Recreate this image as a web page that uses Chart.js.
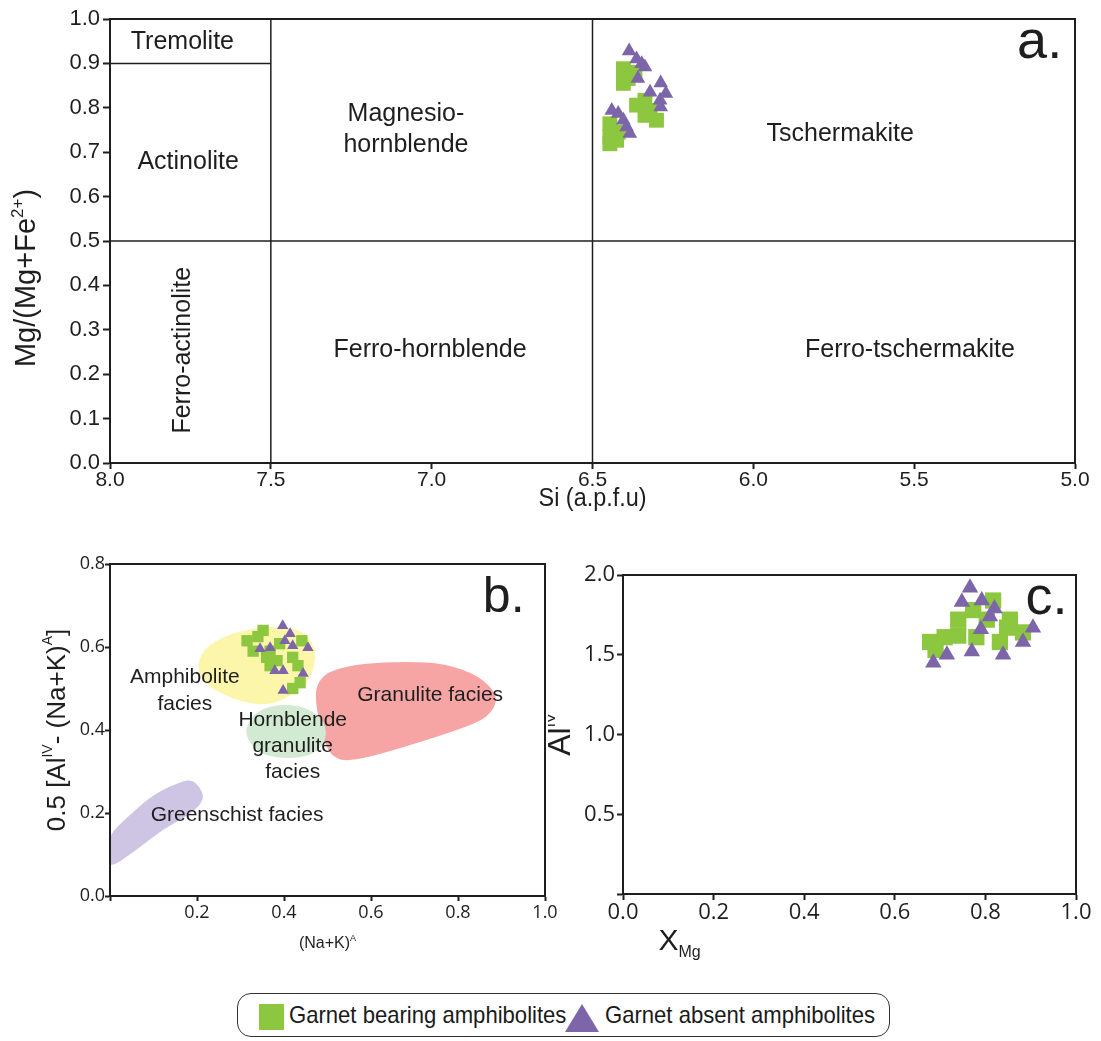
<!DOCTYPE html>
<html>
<head>
<meta charset="utf-8">
<script src="https://cdn.jsdelivr.net/npm/chart.js@4.4.1/dist/chart.umd.min.js"></script>
<style>
  body{margin:0;background:#fff;width:1101px;height:1041px;position:relative;overflow:hidden;font-family:"Liberation Sans",Arial,sans-serif;}
  canvas{position:absolute;}
  #legend{position:absolute;left:237px;top:993px;width:651px;height:42px;border:1.5px solid #333;border-radius:14px;}
  #legend span{position:absolute;top:7px;font:24px "Liberation Sans",Arial,sans-serif;color:#1a1a1a;white-space:nowrap;transform:scaleX(0.92);transform-origin:0 50%;}
  #legend .sq{position:absolute;left:21px;top:10px;width:25px;height:26px;background:#8dc63f;}
  #legend svg{position:absolute;left:327px;top:10px;}
</style>
</head>
<body>
<canvas id="chartA" width="1101" height="530" style="left:0;top:0"></canvas>
<canvas id="chartB" width="560" height="420" style="left:0;top:540px"></canvas>
<canvas id="chartC" width="553" height="420" style="left:548px;top:540px"></canvas>
<div id="legend">
  <div class="sq"></div><span style="left:51px">Garnet bearing amphibolites</span>
  <svg width="34" height="28"><polygon points="17,0 34,28 0,28" fill="#7d65a9"/></svg>
  <span style="left:367px">Garnet absent amphibolites</span>
</div>
<script>
// ---- data ----
// a. Si vs Mg/(Mg+Fe2+)
const aBearingSi = [6.404,6.368,6.389,6.404,6.363,6.337,6.321,6.337,6.301,6.446,6.420,6.446,6.425,6.446];
const aBearingMg = [0.888,0.880,0.866,0.855,0.806,0.817,0.794,0.783,0.772,0.764,0.745,0.734,0.727,0.719];
const aAbsentSi = [6.386,6.363,6.347,6.337,6.359,6.288,6.321,6.272,6.290,6.288,6.440,6.420,6.404,6.394,6.384];
const aAbsentMg = [0.928,0.910,0.899,0.892,0.866,0.856,0.835,0.832,0.817,0.802,0.794,0.787,0.772,0.757,0.742];
// b. (Na+K)A vs 0.5[AlIV-(Na+K)A]
const bBearingNaK = [0.315,0.352,0.329,0.368,0.360,0.384,0.420,0.432,0.441,0.437,0.420,0.368,0.390,0.340];
const bBearingAl  = [0.615,0.640,0.590,0.590,0.575,0.567,0.575,0.555,0.615,0.514,0.500,0.555,0.608,0.625];
const bAbsentNaK = [0.397,0.414,0.402,0.420,0.455,0.368,0.345,0.398,0.379,0.444,0.398];
const bAbsentAl  = [0.651,0.632,0.615,0.603,0.598,0.598,0.596,0.543,0.543,0.536,0.495];
// c. XMg vs AlIV
const cBearingXMg = [0.678,0.710,0.740,0.740,0.773,0.817,0.803,0.780,0.848,0.883,0.832,0.854,0.690];
const cBearingAl  = [1.58,1.61,1.72,1.62,1.78,1.84,1.72,1.61,1.67,1.64,1.58,1.72,1.53];
const cAbsentXMg = [0.766,0.748,0.792,0.820,0.810,0.790,0.905,0.883,0.839,0.770,0.715,0.685];
const cAbsentAl  = [1.92,1.83,1.84,1.79,1.74,1.66,1.67,1.58,1.50,1.52,1.50,1.45];

// facies fields in chart b (data units, closed outlines)
const amphiboliteField = [[0.20,0.56],[0.22,0.60],[0.27,0.63],[0.33,0.645],[0.40,0.65],[0.45,0.635],[0.475,0.59],[0.465,0.53],[0.43,0.49],[0.37,0.46],[0.31,0.465],[0.25,0.49],[0.21,0.52]];
const hornblendeField  = [[0.31,0.40],[0.33,0.44],[0.38,0.462],[0.44,0.458],[0.49,0.43],[0.50,0.38],[0.47,0.34],[0.41,0.33],[0.35,0.34],[0.32,0.37]];
const granuliteField   = [[0.47,0.48],[0.48,0.52],[0.51,0.545],[0.58,0.56],[0.68,0.565],[0.77,0.56],[0.85,0.53],[0.895,0.48],[0.87,0.43],[0.80,0.40],[0.68,0.36],[0.58,0.33],[0.52,0.325],[0.49,0.37]];
const greenschistField = [[-0.01,0.06],[-0.01,0.14],[0.05,0.20],[0.10,0.245],[0.15,0.27],[0.185,0.282],[0.205,0.265],[0.218,0.235],[0.19,0.20],[0.12,0.16],[0.06,0.11]];

const GREEN = '#8dc63f', PURPLE = '#7d65a9', INK = '#1e1e1e';
const ARIAL = '"Liberation Sans", Arial, sans-serif';
const OPEN = '"Open Sans", sans-serif';

function pts(xs, ys){ return xs.map((x,i)=>({x:x, y:ys[i]})); }

// rich text: parts = [text, size, dy]
function richText(ctx, x, y, parts, rot, family, sx){
  ctx.save();
  ctx.translate(x, y);
  if(rot) ctx.rotate(rot);
  if(sx) ctx.scale(sx, 1);
  let total = 0;
  parts.forEach(p=>{ ctx.font = p[1]+'px '+family; total += ctx.measureText(p[0]).width; });
  let cx = -total/2;
  ctx.fillStyle = INK; ctx.textBaseline = 'alphabetic'; ctx.textAlign = 'left';
  parts.forEach(p=>{ ctx.font = p[1]+'px '+family; ctx.fillText(p[0], cx, p[2]||0); cx += ctx.measureText(p[0]).width; });
  ctx.restore();
}

function smoothPath(ctx, p){
  const n = p.length, mid = (a,b)=>[(a[0]+b[0])/2,(a[1]+b[1])/2];
  let m = mid(p[n-1], p[0]);
  ctx.moveTo(m[0], m[1]);
  for(let i=0;i<n;i++){ const q = p[(i+1)%n]; const m2 = mid(p[i], q); ctx.quadraticCurveTo(p[i][0], p[i][1], m2[0], m2[1]); }
  ctx.closePath();
}

const overlay = {
  id:'overlay',
  beforeDatasetsDraw(chart, args, o){
    const {ctx, chartArea:ca, scales:{x, y}} = chart;
    ctx.save();
    ctx.beginPath(); ctx.rect(ca.left, ca.top, ca.right-ca.left, ca.bottom-ca.top); ctx.clip();
    (o.fields||[]).forEach(f=>{
      ctx.beginPath();
      smoothPath(ctx, f.pts.map(p=>[x.getPixelForValue(p[0]), y.getPixelForValue(p[1])]));
      ctx.fillStyle = f.color; ctx.fill();
    });
    ctx.strokeStyle = INK; ctx.lineWidth = 1.5;
    (o.lines||[]).forEach(l=>{
      ctx.beginPath();
      ctx.moveTo(x.getPixelForValue(l[0]), y.getPixelForValue(l[1]));
      ctx.lineTo(x.getPixelForValue(l[2]), y.getPixelForValue(l[3]));
      ctx.stroke();
    });
    ctx.restore();
    // labels
    (o.labels||[]).forEach(l=>{
      ctx.save();
      ctx.translate(x.getPixelForValue(l.x), y.getPixelForValue(l.y));
      if(l.rot) ctx.rotate(l.rot);
      ctx.font = l.size+'px '+(l.family||ARIAL);
      ctx.fillStyle = INK; ctx.textAlign = 'center'; ctx.textBaseline = 'middle';
      const lh = l.lh || l.size*1.2;
      l.text.forEach((t,i)=>ctx.fillText(t, 0, (i-(l.text.length-1)/2)*lh));
      ctx.restore();
    });
  },
  afterDraw(chart, args, o){
    const {ctx, chartArea:ca} = chart;
    ctx.save();
    ctx.strokeStyle = INK; ctx.lineWidth = 2;
    ctx.strokeRect(ca.left, ca.top, ca.right-ca.left, ca.bottom-ca.top);
    ctx.restore();
    (o.titles||[]).forEach(t=>{
      const px = t.anchor==='y' ? ca.left + t.dx : (ca.left+ca.right)/2 + (t.dx||0);
      const py = t.anchor==='y' ? (ca.top+ca.bottom)/2 + (t.dy||0) : ca.bottom + t.dy;
      richText(ctx, px, py, t.parts, t.rot, t.family||ARIAL, t.sx);
    });
  }
};

function axis(opts){
  const o = {
    type:'linear', min:opts.min, max:opts.max, reverse:!!opts.reverse,
    ticks:{stepSize:opts.step, color:INK, font:{size:opts.size, family:opts.family}, padding:opts.pad,
      callback:v=> (opts.hide0 && Math.abs(v)<1e-9) ? '' : Number(v).toFixed(1)},
    grid:{display:true, drawOnChartArea:false, drawTicks:true, tickLength:opts.tick||6, tickColor:INK, tickWidth:2},
    border:{display:true, color:INK, width:2},
    title:{display:false}
  };
  if(opts.w) o.afterFit = s=>{ s.width = opts.w; };
  if(opts.h) o.afterFit = s=>{ s.height = opts.h; };
  return o;
}

function scatterSets(bx, by, ax, ay, rs, rt){
  return [
    {label:'Garnet bearing amphibolites', data:pts(bx,by), pointStyle:'rect', pointRadius:rs, backgroundColor:GREEN, borderColor:GREEN, borderWidth:0, order:2},
    {label:'Garnet absent amphibolites', data:pts(ax,ay), pointStyle:'triangle', pointRadius:rt, backgroundColor:PURPLE, borderColor:PURPLE, borderWidth:0, order:1}
  ];
}

const common = {responsive:false, animation:false, events:[],
  plugins:{legend:{display:false}, tooltip:{enabled:false}}};

// ---- chart a ----
new Chart(document.getElementById('chartA'), {
  type:'scatter',
  data:{datasets:scatterSets(aBearingSi,aBearingMg,aAbsentSi,aAbsentMg,10.5,8.5)},
  options:Object.assign({}, common, {
    layout:{padding:{top:19, right:26, left:0, bottom:0}},
    scales:{
      x:axis({min:5,max:8,step:0.5,reverse:true,size:21,family:ARIAL,h:67,tick:6,pad:-1}),
      y:axis({min:0,max:1,step:0.1,size:22,family:ARIAL,w:110,tick:7,pad:3})
    },
    plugins:Object.assign({}, common.plugins, {overlay:{
      lines:[[8,0.5,5,0.5],[7.5,0,7.5,1],[6.5,0,6.5,1],[8,0.9,7.5,0.9]],
      labels:[
        {x:7.775,y:0.949,text:['Tremolite'],size:25},
        {x:7.757,y:0.677,text:['Actinolite'],size:25},
        {x:7.08,y:0.752,text:['Magnesio-','hornblende'],size:25,lh:31},
        {x:5.73,y:0.740,text:['Tschermakite'],size:25},
        {x:7.005,y:0.254,text:['Ferro-hornblende'],size:25},
        {x:5.513,y:0.254,text:['Ferro-tschermakite'],size:25},
        {x:7.773,y:0.254,text:['Ferro-actinolite'],size:25,rot:-Math.PI/2},
        {x:5.11,y:0.945,text:['a.'],size:54}
      ],
      titles:[
        {anchor:'y', dx:-75, dy:37, rot:-Math.PI/2, parts:[['Mg/(Mg+Fe',29],['2+',17,-12],[')',29]]},
        {anchor:'x', dy:43, parts:[['Si (a.p.f.u)',26]], sx:0.9}
      ]
    }})
  }),
  plugins:[overlay]
});

// ---- chart b ----
new Chart(document.getElementById('chartB'), {
  type:'scatter',
  data:{datasets:scatterSets(bBearingNaK,bBearingAl,bAbsentNaK,bAbsentAl,8,6.5)},
  options:Object.assign({}, common, {
    layout:{padding:{top:24, right:15, left:0, bottom:0}},
    scales:{
      x:axis({min:0,max:1,step:0.2,size:18,family:OPEN,h:64,tick:5,pad:1,hide0:true}),
      y:axis({min:0,max:0.8,step:0.2,size:18,family:OPEN,w:110,tick:5,pad:0})
    },
    plugins:Object.assign({}, common.plugins, {overlay:{
      fields:[
        {pts:greenschistField, color:'rgb(206,196,228)'},
        {pts:granuliteField, color:'rgb(246,164,164)'},
        {pts:hornblendeField, color:'rgb(210,233,210)'},
        {pts:amphiboliteField, color:'rgb(252,246,170)'}
      ],
      labels:[
        {x:0.172,y:0.495,text:['Amphibolite','facies'],size:21,lh:27},
        {x:0.42,y:0.362,text:['Hornblende','granulite','facies'],size:21,lh:26},
        {x:0.736,y:0.483,text:['Granulite facies'],size:21},
        {x:0.292,y:0.195,text:['Greenschist facies'],size:21},
        {x:0.905,y:0.718,text:['b.'],size:50}
      ],
      titles:[
        {anchor:'y', dx:-45, dy:0, rot:-Math.PI/2, parts:[['0.5 [Al',26],['IV',14,-13],['- (Na+K)',26],['A',14,-13],[']',26]]},
        {anchor:'x', dy:52, parts:[['(Na+K)',16],['A',9,-7]]}
      ]
    }})
  }),
  plugins:[overlay]
});

// ---- chart c ----
new Chart(document.getElementById('chartC'), {
  type:'scatter',
  data:{datasets:scatterSets(cBearingXMg,cBearingAl,cAbsentXMg,cAbsentAl,11.5,9.5)},
  options:Object.assign({}, common, {
    layout:{padding:{top:35, right:25, left:0, bottom:0}},
    scales:{
      x:axis({min:0,max:1,step:0.2,size:22,family:OPEN,h:66,tick:6,pad:0}),
      y:axis({min:0,max:2,step:0.5,size:22,family:OPEN,w:75,tick:6,pad:2,hide0:true})
    },
    plugins:Object.assign({}, common.plugins, {overlay:{
      labels:[{x:0.935,y:1.85,text:['c.'],size:54}],
      titles:[
        {anchor:'y', dx:-53, dy:0, rot:-Math.PI/2, parts:[['Al',32],['IV',15,-15]]},
        {anchor:'x', dx:-170, dy:56, parts:[['X',30],['Mg',16,7]]}
      ]
    }})
  }),
  plugins:[overlay]
});
</script>
</body>
</html>
